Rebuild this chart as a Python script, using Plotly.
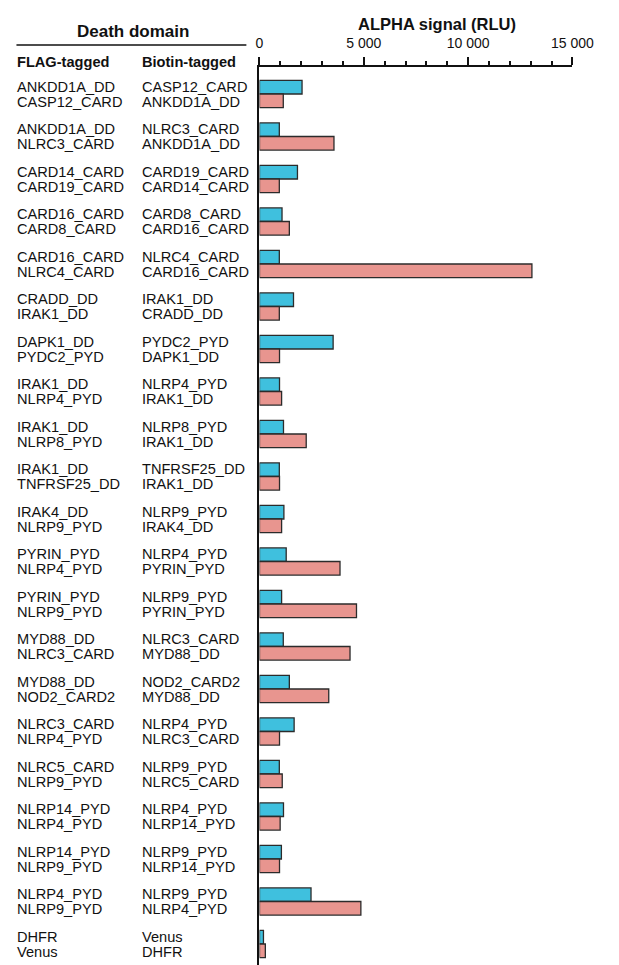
import plotly.graph_objects as go

# Death-domain pairs: FLAG-tagged partner and Biotin-tagged partner, two orientations per pair
flag_top = ["ANKDD1A_DD", "ANKDD1A_DD", "CARD14_CARD", "CARD16_CARD", "CARD16_CARD",
            "CRADD_DD", "DAPK1_DD", "IRAK1_DD", "IRAK1_DD", "IRAK1_DD", "IRAK4_DD",
            "PYRIN_PYD", "PYRIN_PYD", "MYD88_DD", "MYD88_DD", "NLRC3_CARD", "NLRC5_CARD",
            "NLRP14_PYD", "NLRP14_PYD", "NLRP4_PYD", "DHFR"]
flag_bottom = ["CASP12_CARD", "NLRC3_CARD", "CARD19_CARD", "CARD8_CARD", "NLRC4_CARD",
               "IRAK1_DD", "PYDC2_PYD", "NLRP4_PYD", "NLRP8_PYD", "TNFRSF25_DD", "NLRP9_PYD",
               "NLRP4_PYD", "NLRP9_PYD", "NLRC3_CARD", "NOD2_CARD2", "NLRP4_PYD", "NLRP9_PYD",
               "NLRP4_PYD", "NLRP9_PYD", "NLRP9_PYD", "Venus"]
biotin_top = flag_bottom
biotin_bottom = flag_top

# ALPHA signal (RLU) for each orientation
signal_top = [2040, 950, 1820, 1080, 950, 1630, 3530, 960, 1150, 950, 1170,
              1280, 1060, 1140, 1430, 1660, 950, 1150, 1050, 2470, 190]
signal_bottom = [1140, 3570, 950, 1430, 13060, 950, 960, 1060, 2240, 960, 1060,
                 3860, 4650, 4340, 3320, 960, 1090, 990, 960, 4860, 280]

x_ticks = [0, 5000, 10000, 15000]
x_tick_text = ["0", "5 000", "10 000", "15 000"]

W, H = 619, 965
FONT = "Liberation Sans, Arial, Helvetica, sans-serif"
CYAN = "#3FC0DE"
PINK = "#E8958F"
EDGE = "#2b2b2b"

groups = list(range(len(flag_top)))

fig = go.Figure()
fig.add_trace(go.Bar(y=groups, x=signal_top, orientation="h", name="top",
                     marker=dict(color=CYAN, line=dict(color=EDGE, width=1.3))))
fig.add_trace(go.Bar(y=groups, x=signal_bottom, orientation="h", name="bottom",
                     marker=dict(color=PINK, line=dict(color=EDGE, width=1.3))))

# pixel geometry of the plotting area
x0_px, x1_px = 266.7, 593.3
top_px = 67.3
first_center_px = 94.0
step_px = 42.5
y_top = -(first_center_px - top_px) / step_px
y_bot = y_top + (H - top_px) / step_px

annotations = []
label_font = dict(family=FONT, size=14.6, color="#111111")
for i in groups:
    for x_px, upper, lower in [(12, flag_top[i], flag_bottom[i]),
                               (142, biotin_top[i], biotin_bottom[i])]:
        annotations.append(dict(x=x_px / W, xref="paper", y=i, yref="y", yshift=7.5,
                                text=upper, showarrow=False, xanchor="left",
                                yanchor="middle", font=label_font))
        annotations.append(dict(x=x_px / W, xref="paper", y=i, yref="y", yshift=-7.5,
                                text=lower, showarrow=False, xanchor="left",
                                yanchor="middle", font=label_font))

head_font = dict(family=FONT, size=14.6, color="#111111")
annotations += [
    dict(x=135 / W, y=1 - 31 / H, xref="paper", yref="paper", text="<b>Death domain</b>",
         showarrow=False, xanchor="center", yanchor="middle",
         font=dict(family=FONT, size=17, color="#111111")),
    dict(x=452 / W, y=1 - 24 / H, xref="paper", yref="paper", text="<b>ALPHA signal (RLU)</b>",
         showarrow=False, xanchor="center", yanchor="middle",
         font=dict(family=FONT, size=16.5, color="#111111")),
    dict(x=12 / W, y=1 - 62 / H, xref="paper", yref="paper", text="<b>FLAG-tagged</b>",
         showarrow=False, xanchor="left", yanchor="middle", font=head_font),
    dict(x=142 / W, y=1 - 62 / H, xref="paper", yref="paper", text="<b>Biotin-tagged</b>",
         showarrow=False, xanchor="left", yanchor="middle", font=head_font),
]

fig.update_layout(
    width=W, height=H,
    margin=dict(l=0, r=0, t=0, b=0),
    paper_bgcolor="white", plot_bgcolor="white",
    showlegend=False,
    barmode="group", bargap=0.36, bargroupgap=0,
    annotations=annotations,
    shapes=[dict(type="line", xref="paper", yref="paper",
                 x0=13 / W, x1=253 / W, y0=1 - 45 / H, y1=1 - 45 / H,
                 line=dict(color="#111111", width=1.5))],
    xaxis=dict(
        domain=[x0_px / W, x1_px / W], range=[0, 15000], side="top",
        showgrid=False, zeroline=False,
        showline=True, linecolor="#111111", linewidth=2,
        ticks="outside", ticklen=8, tickwidth=2, tickcolor="#111111",
        tickvals=x_ticks, ticktext=x_tick_text, ticklabelstandoff=4,
        tickfont=dict(family=FONT, size=14, color="#111111"),
        minor=dict(dtick=1000, tick0=0, ticks="outside", ticklen=4.5,
                   tickwidth=1.6, tickcolor="#111111", showgrid=False),
    ),
    yaxis=dict(
        domain=[0, 1 - top_px / H], range=[y_bot, y_top],
        showgrid=False, zeroline=False, showticklabels=False, ticks="",
        showline=True, linecolor="#111111", linewidth=2,
    ),
)

fig.write_html("out.html")
